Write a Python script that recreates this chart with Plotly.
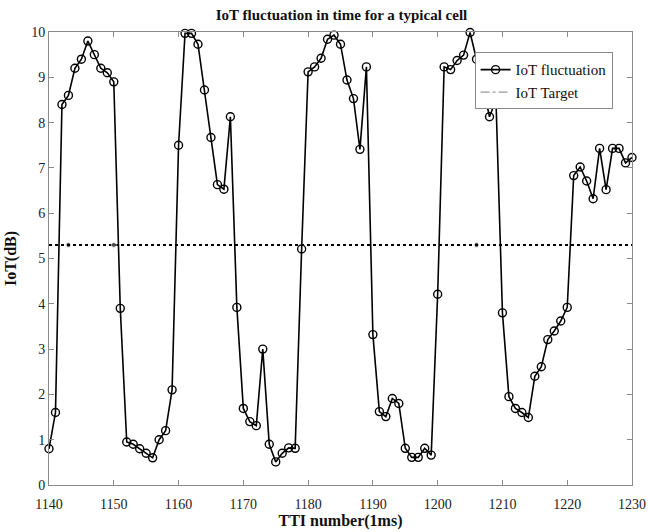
import plotly.graph_objects as go

# IoT samples, one per TTI from 1140 to 1230
tti = list(range(1140, 1231))
iot_db = [
    0.8, 1.6, 8.4, 8.6, 9.2, 9.4, 9.8, 9.5, 9.2, 9.1,      # 1140-1149
    8.9, 3.9, 0.95, 0.9, 0.8, 0.7, 0.6, 1.0, 1.2, 2.1,     # 1150-1159
    7.5, 9.97, 9.97, 9.73, 8.72, 7.67, 6.63, 6.53, 8.13, 3.92,  # 1160-1169
    1.69, 1.4, 1.31, 3.0, 0.9, 0.51, 0.7, 0.82, 0.81, 5.21,     # 1170-1179
    9.12, 9.23, 9.42, 9.84, 9.93, 9.73, 8.94, 8.53, 7.41, 9.23,  # 1180-1189
    3.32, 1.62, 1.51, 1.91, 1.8, 0.81, 0.61, 0.61, 0.81, 0.66,   # 1190-1199
    4.21, 9.23, 9.17, 9.37, 9.49, 9.99, 9.4, 8.8, 8.13, 8.5,     # 1200-1209
    3.8, 1.95, 1.69, 1.6, 1.49, 2.4, 2.61, 3.21, 3.4, 3.62,      # 1210-1219
    3.92, 6.83, 7.02, 6.71, 6.32, 7.43, 6.52, 7.43, 7.43, 7.11,  # 1220-1229
    7.23,                                                        # 1230
]

# Target level and the points where the target curve carries a dot
target_db = 5.3
target_x = [1140, 1143, 1150, 1206, 1230]
target_dot_size = [0, 5, 5, 5, 0]

x_ticks = list(range(1140, 1231, 10))
y_ticks = list(range(0, 11, 1))

serif = "Liberation Serif, Times New Roman, serif"

fig = go.Figure()

fig.add_trace(go.Scatter(
    x=target_x, y=[target_db] * len(target_x),
    mode="lines+markers",
    line=dict(color="black", width=2, dash="dot"),
    marker=dict(color="black", size=target_dot_size),
    showlegend=False, hoverinfo="skip", cliponaxis=False,
))

fig.add_trace(go.Scatter(
    x=tti, y=iot_db,
    mode="lines+markers",
    name="IoT fluctuation",
    line=dict(color="black", width=1.6),
    marker=dict(symbol="circle-open", size=8, color="black",
                line=dict(width=1.4, color="black")),
    cliponaxis=False,
))

# legend entry for the target line
fig.add_trace(go.Scatter(
    x=[None], y=[None],
    mode="lines",
    name="IoT Target",
    line=dict(color="#9a9a9a", width=1.4, dash="dashdot"),
))

axis_common = dict(
    showline=True, linecolor="#8a8a8a", linewidth=1, mirror="ticks",
    ticks="inside", ticklen=5, tickcolor="#8a8a8a",
    showgrid=False, zeroline=False, automargin=False,
    tickfont=dict(family=serif, size=14, color="#222222"),
)

fig.update_xaxes(
    range=[1140, 1230], tickvals=x_ticks, ticklabelstandoff=6,
    title=dict(text="<b>TTI number(1ms)</b>", standoff=2,
               font=dict(family=serif, size=16, color="#111111")),
    **axis_common,
)
fig.update_yaxes(
    range=[0, 10], tickvals=y_ticks,
    title=dict(text="<b>IoT(dB)</b>", standoff=10,
               font=dict(family=serif, size=16, color="#111111")),
    **axis_common,
)

fig.update_layout(
    width=648, height=532,
    margin=dict(l=49, r=16, t=32, b=47),
    paper_bgcolor="white", plot_bgcolor="white",
    title=dict(text="<b>IoT fluctuation in time for a typical cell</b>",
               x=0.527, xanchor="center", y=0.982, yanchor="top",
               font=dict(family=serif, size=15, color="#111111")),
    legend=dict(
        x=0.73, y=0.955, xanchor="left", yanchor="top",
        bgcolor="white", bordercolor="#8a8a8a", borderwidth=1,
        font=dict(family=serif, size=15, color="#111111"),
        tracegroupgap=0, itemwidth=30,
    ),
    showlegend=True,
)

fig.write_html("out.html")
